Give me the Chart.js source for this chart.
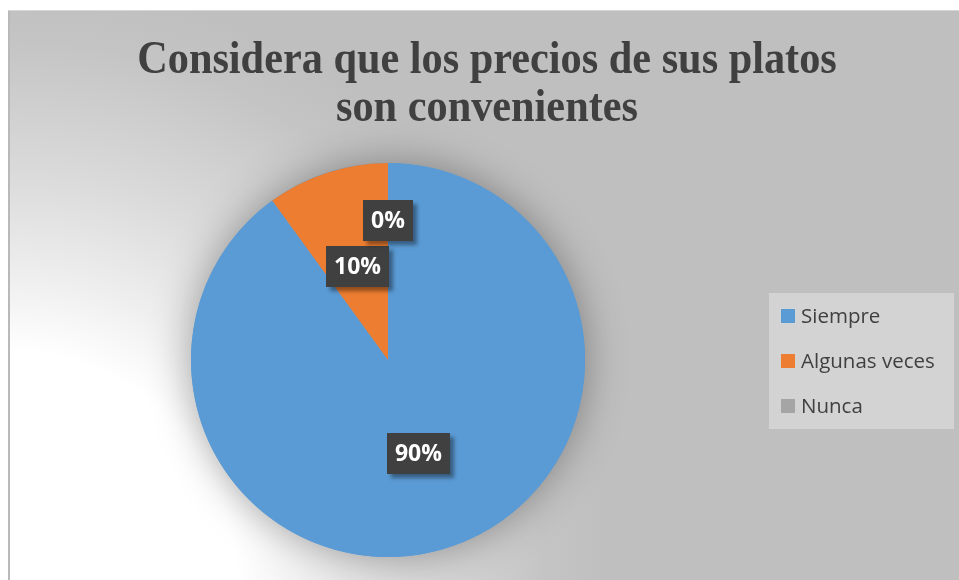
<!DOCTYPE html>
<html>
<head>
<meta charset="utf-8">
<script src="https://cdn.jsdelivr.net/npm/chart.js@4.4.1/dist/chart.umd.min.js"></script>
<style>
    html, body { margin: 0; padding: 0; background: #ffffff; }
    #wrap { position: relative; width: 959px; height: 580px; overflow: hidden; }
    #chart { position: absolute; left: 0; top: 0; }
    #title {
        position: absolute; left: -13px; top: 33px; width: 1000px;
        text-align: center; font-family: "Liberation Serif", "Times New Roman", serif;
        font-weight: bold; font-size: 47px; line-height: 48px; color: #404040;
        transform: scaleX(0.9); transform-origin: 500px 0;
    }
</style>
</head>
<body>
<div id="wrap">
    <canvas id="chart" width="959" height="580"></canvas>
    <div id="title">Considera que los precios de sus platos<br>son convenientes</div>
</div>
<script>
// Chart data
const categories = ["Siempre", "Algunas veces", "Nunca"];
const percentages = [90, 10, 0];
const sliceColors = ["#5b9bd5", "#ed7d31", "#a5a5a5"];

document.addEventListener("DOMContentLoaded", function () {
    const ctx = document.getElementById("chart").getContext("2d");

    // gray panel with a white glow in the bottom-left corner
    const backgroundPlugin = {
        id: "panelBackground",
        beforeDraw(chart) {
            const c = chart.ctx;
            c.save();
            const g = c.createRadialGradient(8, 580, 0, 8, 580, 600);
            g.addColorStop(0, "#ffffff");
            g.addColorStop(0.38, "#ffffff");
            g.addColorStop(0.5, "#efefef");
            g.addColorStop(0.68, "#dadada");
            g.addColorStop(0.9, "#c4c4c4");
            g.addColorStop(1, "#bfbfbf");
            c.fillStyle = g;
            c.fillRect(8, 10, 951, 570);
            c.fillStyle = "#b9b9b9";
            c.fillRect(8, 10, 2, 570);
            c.fillStyle = "#d6d6d6";
            c.fillRect(8, 10, 951, 1);
            c.restore();
        },
        beforeDatasetsDraw(chart) {
            // soft shadow under the whole pie
            const arc = chart.getDatasetMeta(0).data[0];
            if (!arc) return;
            const p = arc.getProps(["x", "y", "outerRadius"], true);
            const c = chart.ctx;
            c.save();
            c.shadowColor = "rgba(0,0,0,0.34)";
            c.shadowBlur = 40;
            c.fillStyle = sliceColors[0];
            c.beginPath();
            c.arc(p.x, p.y, p.outerRadius, 0, Math.PI * 2);
            c.fill();
            c.restore();
        }
    };

    // dark boxed percentage labels, pushed outwards when they collide
    const labelPlugin = {
        id: "boxLabels",
        afterDatasetsDraw(chart) {
            const c = chart.ctx;
            const meta = chart.getDatasetMeta(0);
            c.save();
            c.font = 'bold 23px "Open Sans"';
            const placed = [];
            meta.data.forEach((arc, i) => {
                const p = arc.getProps(["x", "y", "startAngle", "endAngle", "outerRadius"], true);
                const mid = (p.startAngle + p.endAngle) / 2;
                const text = percentages[i] + "%";
                const w = c.measureText(text).width + 16;
                const h = 41;
                let f = 0.5, box;
                while (true) {
                    const cx = p.x + Math.cos(mid) * p.outerRadius * f;
                    const cy = p.y + Math.sin(mid) * p.outerRadius * f;
                    box = { x: cx - w / 2, y: cy - h / 2, w: w, h: h, cx: cx, cy: cy };
                    const hit = placed.some(b =>
                        box.x < b.x + b.w + 5 && box.x + box.w + 5 > b.x &&
                        box.y < b.y + b.h + 5 && box.y + box.h + 5 > b.y);
                    if (!hit || f > 1.2) break;
                    f += 0.01;
                }
                placed.push(box);

                c.save();
                c.shadowColor = "rgba(0,0,0,0.4)";
                c.shadowBlur = 4;
                c.shadowOffsetX = 4;
                c.shadowOffsetY = 4;
                c.fillStyle = "#404040";
                c.fillRect(Math.round(box.x), Math.round(box.y), Math.round(w), h);
                c.restore();

                c.fillStyle = "#ffffff";
                c.textAlign = "center";
                c.textBaseline = "middle";
                c.fillText(text, box.cx, box.cy + 1);
            });
            c.restore();
        }
    };

    const legendPlugin = {
        id: "boxLegend",
        afterDraw(chart) {
            const c = chart.ctx;
            c.save();
            c.fillStyle = "#d3d3d3";
            c.fillRect(769, 293, 185, 136);
            c.font = '20.5px "Open Sans"';
            c.textBaseline = "middle";
            categories.forEach((name, i) => {
                const y = 316 + i * 45;
                c.fillStyle = sliceColors[i];
                c.fillRect(781, y - 7, 14, 14);
                c.fillStyle = "#404040";
                c.fillText(name, 801, y + 1);
            });
            c.restore();
        }
    };

    new Chart(ctx, {
        type: "pie",
        data: {
            labels: categories,
            datasets: [{
                data: percentages,
                backgroundColor: sliceColors,
                borderWidth: 0
            }]
        },
        options: {
            responsive: false,
            animation: false,
            layout: { padding: { top: 163, bottom: 23, left: 191, right: 374 } },
            plugins: {
                legend: { display: false },
                title: { display: false },
                tooltip: { enabled: false }
            }
        },
        plugins: [backgroundPlugin, labelPlugin, legendPlugin]
    });
});
</script>
</body>
</html>
